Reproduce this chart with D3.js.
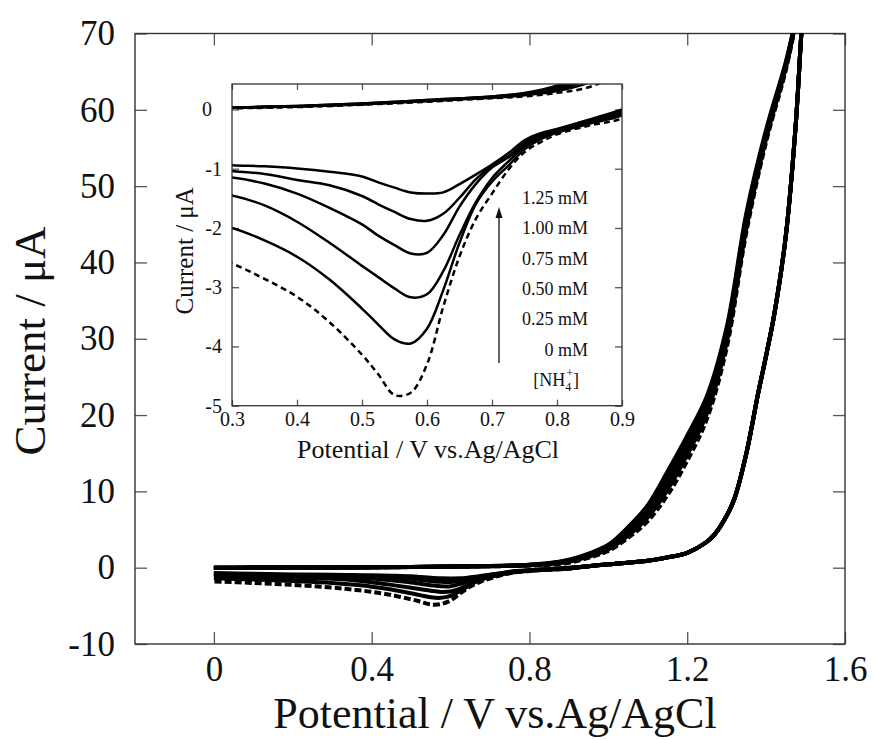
<!DOCTYPE html>
<html><head><meta charset="utf-8">
<script src="https://cdn.jsdelivr.net/npm/d3@7"></script>
<style>
body{margin:0;background:#fff;}
svg{display:block;}
text{font-family:"Liberation Serif","Times New Roman",serif;fill:#111;}
</style></head><body>
<svg id="chart" width="875" height="740"></svg>
<script>
// ---------------- data ----------------
const concentrations = ["1.25 mM", "1.00 mM", "0.75 mM", "0.50 mM", "0.25 mM", "0 mM"];
const dashedSeries = "0 mM";

// forward (anodic) scan, potential in V
const forwardE = [0, 0.1, 0.2, 0.3, 0.4, 0.5, 0.6, 0.7, 0.75, 0.8, 0.85, 0.9, 0.95, 1.0, 1.05, 1.1, 1.15, 1.2, 1.25, 1.3, 1.35, 1.4, 1.45, 1.5];
const forward125 = [0, 0.01, 0.02, 0.03, 0.06, 0.10, 0.16, 0.22, 0.28, 0.40, 0.62, 1.05, 1.85, 3.0, 5.3, 8.2, 12.6, 17.3, 22.5, 31.5, 46.5, 57.4, 66.3, 77];
const forward100 = [0, 0.01, 0.02, 0.03, 0.06, 0.10, 0.16, 0.22, 0.27, 0.37, 0.58, 0.98, 1.75, 2.85, 5.0, 7.8, 12.0, 16.6, 21.9, 31.0, 46.0, 57.1, 66.1, 77];
const forward075 = [0, 0.01, 0.02, 0.03, 0.05, 0.09, 0.15, 0.21, 0.26, 0.35, 0.55, 0.92, 1.65, 2.7, 4.7, 7.4, 11.4, 16.0, 21.3, 30.5, 45.5, 56.8, 65.9, 77];
const forward050 = [0, 0.01, 0.02, 0.03, 0.05, 0.09, 0.15, 0.20, 0.25, 0.33, 0.52, 0.86, 1.55, 2.55, 4.45, 7.0, 10.8, 15.4, 20.8, 30.0, 45.0, 56.5, 65.7, 77];
const forward025 = [0, 0.01, 0.02, 0.03, 0.05, 0.09, 0.14, 0.20, 0.24, 0.31, 0.46, 0.78, 1.45, 2.4, 4.2, 6.6, 10.2, 14.8, 20.2, 29.5, 44.5, 56.2, 65.5, 77];
const forward000 = [0, 0.01, 0.01, 0.02, 0.04, 0.08, 0.13, 0.19, 0.22, 0.28, 0.38, 0.65, 1.3, 2.2, 3.9, 6.1, 9.5, 14.0, 19.5, 28.8, 44.0, 55.8, 65.2, 77];

// reverse scan, high-potential part (shared by all concentrations)
const reverseHighE = [1.49, 1.475, 1.45, 1.42, 1.4, 1.38, 1.35, 1.32, 1.3, 1.27, 1.25, 1.2, 1.15, 1.1, 1.0, 0.95];
const reverseHighI = [70.5, 58, 43.5, 33, 27.8, 22.9, 15.0, 9.1, 6.8, 4.4, 3.4, 1.95, 1.35, 0.9, 0.45, 0.2];

// reverse scan, low-potential part (cathodic peak)
const reverseLowE = [0.9, 0.85, 0.8, 0.775, 0.75, 0.725, 0.7, 0.675, 0.65, 0.625, 0.6, 0.575, 0.55, 0.525, 0.5, 0.45, 0.4, 0.35, 0.3, 0.2, 0.1, 0];
const reverse125 = [0.0, -0.17, -0.33, -0.40, -0.52, -0.74, -0.93, -1.10, -1.26, -1.40, -1.42, -1.40, -1.32, -1.23, -1.13, -1.05, -0.995, -0.96, -0.94, -0.88, -0.80, -0.70];
const reverse100 = [-0.03, -0.19, -0.34, -0.43, -0.56, -0.79, -0.95, -1.18, -1.49, -1.76, -1.88, -1.85, -1.73, -1.60, -1.46, -1.28, -1.19, -1.09, -1.04, -0.98, -0.90, -0.80];
const reverse075 = [-0.05, -0.20, -0.36, -0.46, -0.60, -0.81, -0.98, -1.26, -1.64, -2.12, -2.42, -2.43, -2.29, -2.13, -1.94, -1.66, -1.42, -1.25, -1.15, -1.06, -0.98, -0.90];
const reverse050 = [-0.08, -0.22, -0.37, -0.48, -0.63, -0.88, -1.16, -1.57, -2.12, -2.73, -3.12, -3.17, -3.02, -2.83, -2.64, -2.25, -1.895, -1.62, -1.45, -1.32, -1.20, -1.10];
const reverse025 = [-0.10, -0.24, -0.39, -0.50, -0.67, -0.95, -1.22, -1.60, -2.25, -3.05, -3.70, -3.95, -3.88, -3.63, -3.36, -2.87, -2.485, -2.21, -2.00, -1.75, -1.55, -1.40];
const reverse000 = [-0.15, -0.27, -0.42, -0.55, -0.72, -1.02, -1.42, -1.85, -2.48, -3.33, -4.30, -4.78, -4.82, -4.47, -4.14, -3.59, -3.16, -2.86, -2.60, -2.25, -2.00, -1.80];

const forwardSets = [forward125, forward100, forward075, forward050, forward025, forward000];
const reverseSets = [reverse125, reverse100, reverse075, reverse050, reverse025, reverse000];

// axes
const mainXTicks = [0, 0.4, 0.8, 1.2, 1.6];
const mainYTicks = [-10, 0, 10, 20, 30, 40, 50, 60, 70];
const insetXTicks = [0.3, 0.4, 0.5, 0.6, 0.7, 0.8, 0.9];
const insetYTicks = [0, -1, -2, -3, -4, -5];
const legendLabels = ["1.25 mM", "1.00 mM", "0.75 mM", "0.50 mM", "0.25 mM", "0 mM"];
const xTitle = "Potential / V vs.Ag/AgCl";
const yTitle = "Current / \u03bcA";

// ---------------- build loops ----------------
const loops = concentrations.map((c, k) => {
  const pts = [];
  forwardE.forEach((e, j) => pts.push([e, forwardSets[k][j]]));
  reverseHighE.forEach((e, j) => pts.push([e, reverseHighI[j]]));
  reverseLowE.forEach((e, j) => pts.push([e, reverseSets[k][j]]));
  return {name: c, pts};
});
const drawOrder = loops.slice().reverse(); // dashed first

const svg = d3.select("#chart");
const frameColor = "#333";
const tickColor = "#555";

// ---------------- main plot ----------------
const M = {left: 135, right: 845, top: 33.5, bottom: 644};
const x = d3.scaleLinear().domain([-0.2, 1.6]).range([M.left, M.right]);
const y = d3.scaleLinear().domain([-10, 70]).range([M.bottom, M.top]);

svg.append("clipPath").attr("id", "mainClip").append("rect")
  .attr("x", M.left).attr("y", M.top).attr("width", M.right - M.left).attr("height", M.bottom - M.top);

function styleAxis(g, fs) {
  g.select(".domain").remove();
  g.selectAll(".tick line").attr("stroke", tickColor).attr("stroke-width", 1.3);
  g.selectAll(".tick text").attr("font-size", fs).attr("fill", "#111")
    .attr("font-family", "'Liberation Serif','Times New Roman',serif");
}

svg.append("g").attr("transform", `translate(${M.left},0)`)
  .call(d3.axisLeft(y).tickValues(mainYTicks).tickSize(-12).tickPadding(20).tickFormat(d => String(d)))
  .call(g => styleAxis(g, 35));
svg.append("g").attr("transform", `translate(${M.right},0)`)
  .call(d3.axisRight(y).tickValues(mainYTicks).tickSize(-12).tickFormat(""))
  .call(g => styleAxis(g, 35));
svg.append("g").attr("transform", `translate(0,${M.bottom})`)
  .call(d3.axisBottom(x).tickValues(mainXTicks).tickSize(-12).tickPadding(12).tickFormat(d => d === 0 ? "0" : d3.format(".1f")(d)))
  .call(g => styleAxis(g, 35));
svg.append("g").attr("transform", `translate(0,${M.top})`)
  .call(d3.axisTop(x).tickValues(mainXTicks).tickSize(-12).tickFormat(""))
  .call(g => styleAxis(g, 35));

svg.append("rect").attr("x", M.left).attr("y", M.top)
  .attr("width", M.right - M.left).attr("height", M.bottom - M.top)
  .attr("fill", "none").attr("stroke", frameColor).attr("stroke-width", 1.4);

const mainLine = d3.line().x(d => x(d[0])).y(d => y(d[1])).curve(d3.curveCatmullRom.alpha(0.5));
svg.append("g").attr("clip-path", "url(#mainClip)")
  .selectAll("path").data(drawOrder).join("path")
  .attr("d", d => mainLine(d.pts))
  .attr("fill", "none").attr("stroke", "#000")
  .attr("stroke-width", 4).attr("stroke-linejoin", "round")
  .attr("stroke-dasharray", d => d.name === dashedSeries ? "7,3" : null);

svg.append("text").attr("x", 495).attr("y", 728).attr("text-anchor", "middle")
  .attr("font-size", 44).text(xTitle);
svg.append("text").attr("transform", "translate(45,341) rotate(-90)").attr("text-anchor", "middle")
  .attr("font-size", 45).text(yTitle);

// ---------------- inset ----------------
const I = {left: 232, right: 622, top: 84, bottom: 405.7};
const xi = d3.scaleLinear().domain([0.3, 0.9]).range([I.left, I.right]);
const yi = d3.scaleLinear().domain([-5, 0.43]).range([I.bottom, I.top]);

svg.append("rect").attr("x", I.left).attr("y", I.top)
  .attr("width", I.right - I.left).attr("height", I.bottom - I.top).attr("fill", "#fff");
svg.append("clipPath").attr("id", "insetClip").append("rect")
  .attr("x", I.left).attr("y", I.top).attr("width", I.right - I.left).attr("height", I.bottom - I.top);

svg.append("g").attr("transform", `translate(${I.left},0)`)
  .call(d3.axisLeft(yi).tickValues(insetYTicks).tickSize(-7).tickPadding(10).tickFormat(d => d === 0 ? "0\u2002" : String(d)))
  .call(g => styleAxis(g, 20));
svg.append("g").attr("transform", `translate(${I.right},0)`)
  .call(d3.axisRight(yi).tickValues(insetYTicks).tickSize(-7).tickFormat(""))
  .call(g => styleAxis(g, 20));
svg.append("g").attr("transform", `translate(0,${I.bottom})`)
  .call(d3.axisBottom(xi).tickValues(insetXTicks).tickSize(-6).tickPadding(6).tickFormat(d3.format(".1f")))
  .call(g => styleAxis(g, 20));
svg.append("g").attr("transform", `translate(0,${I.top})`)
  .call(d3.axisTop(xi).tickValues(insetXTicks).tickSize(-6).tickFormat(""))
  .call(g => styleAxis(g, 20));

const insetLine = d3.line().x(d => xi(d[0])).y(d => yi(d[1])).curve(d3.curveCatmullRom.alpha(0.5));
svg.append("g").attr("clip-path", "url(#insetClip)")
  .selectAll("path").data(drawOrder).join("path")
  .attr("d", d => insetLine(d.pts))
  .attr("fill", "none").attr("stroke", "#000")
  .attr("stroke-width", 2.5).attr("stroke-linejoin", "round")
  .attr("stroke-dasharray", d => d.name === dashedSeries ? "6,4" : null);

svg.append("rect").attr("x", I.left).attr("y", I.top)
  .attr("width", I.right - I.left).attr("height", I.bottom - I.top)
  .attr("fill", "none").attr("stroke", frameColor).attr("stroke-width", 1.3);

svg.append("text").attr("x", (I.left + I.right) / 2 + 1).attr("y", 458).attr("text-anchor", "middle")
  .attr("font-size", 26).text(xTitle);
svg.append("text").attr("transform", `translate(193,${(I.top + I.bottom) / 2 + 6}) rotate(-90)`).attr("text-anchor", "middle")
  .attr("font-size", 25).text(yTitle);

// legend labels
const legendBase = 204, legendStep = 30.3;
svg.append("g").selectAll("text").data(legendLabels).join("text")
  .attr("x", 588).attr("y", (d, i) => legendBase + i * legendStep)
  .attr("text-anchor", "end").attr("font-size", 18).text(d => d);

const nh = svg.append("text").attr("x", 579).attr("y", legendBase + 6 * legendStep)
  .attr("text-anchor", "end").attr("font-size", 18);
nh.append("tspan").text("[NH");
nh.append("tspan").attr("dy", 5).attr("font-size", 12).text("4");
nh.append("tspan").attr("dx", -5).attr("dy", -14).attr("font-size", 12).text("+");
nh.append("tspan").attr("dy", 9).text("]");

// arrow
const ax = 499;
svg.append("line").attr("x1", ax).attr("x2", ax).attr("y1", 363).attr("y2", 216)
  .attr("stroke", "#111").attr("stroke-width", 1.3);
svg.append("path").attr("d", `M${ax},207 L${ax - 3.5},218 L${ax + 3.5},218 Z`).attr("fill", "#111");
</script>
</body></html>
